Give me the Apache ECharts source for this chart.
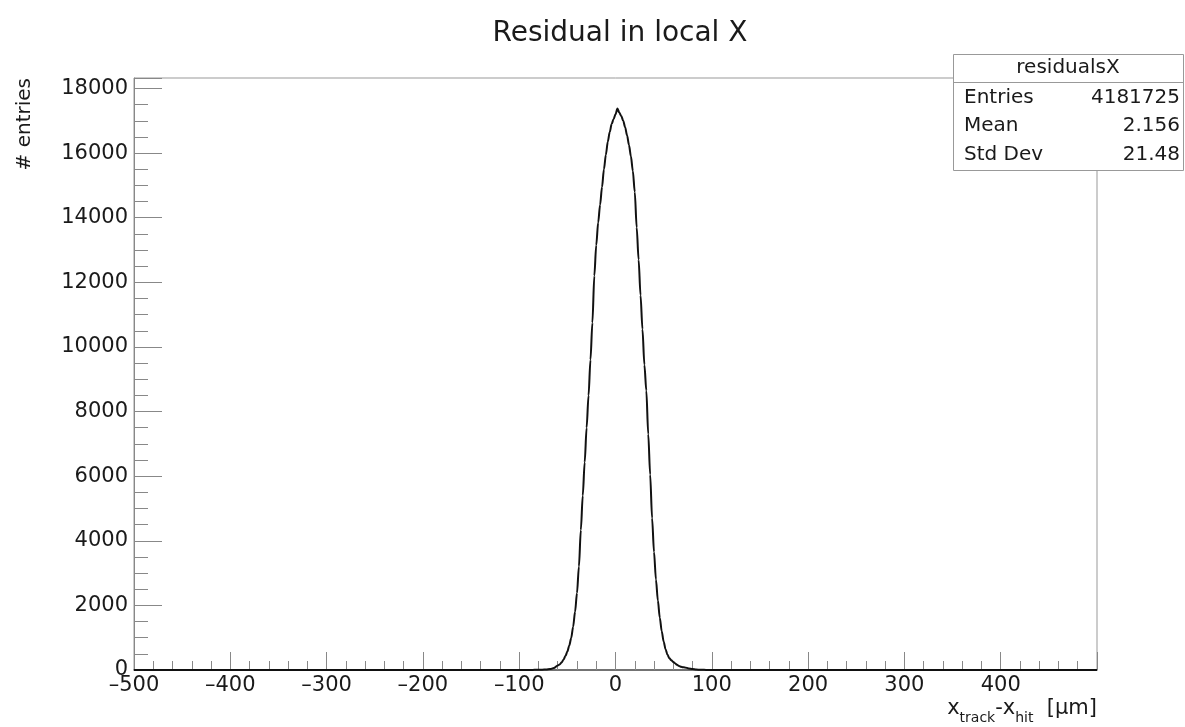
<!DOCTYPE html>
<html><head><meta charset="utf-8">
<script src="https://cdn.jsdelivr.net/npm/echarts@6/dist/echarts.min.js"></script>
<style>html,body{margin:0;padding:0;background:#fff}#c{width:1185px;height:727px}</style>
</head><body><div id="c"></div>
<script>
const chartTitle = 'Residual in local X';
const yAxisTitle = '# entries';
// residual x_track - x_hit (µm)
const residualUm = [-500, -100, -96, -92, -88, -84, -80, -76, -72, -68, -64, -60, -58, -56, -54, -52, -50, -48, -46, -44, -42, -40, -38, -36, -34, -32, -30, -28, -26, -24, -22, -20, -18, -16, -14, -12, -10, -8, -6, -4, -2, 0, 2, 4, 6, 8, 10, 12, 14, 16, 18, 20, 22, 24, 26, 28, 30, 32, 34, 36, 38, 40, 42, 44, 46, 48, 50, 52, 54, 56, 58, 60, 62, 64, 66, 68, 70, 72, 76, 80, 84, 88, 92, 96, 100, 104, 500];
// # entries per bin
const entries = [0, 0, 1, 2, 3, 4, 6, 9, 16, 28, 60, 140, 170, 230, 320, 430, 570, 760, 990, 1340, 1800, 2380, 3200, 4330, 5400, 6430, 7500, 8500, 9600, 10750, 12200, 13150, 13850, 14400, 14950, 15500, 15950, 16350, 16650, 16900, 17050, 17200, 17380, 17250, 17150, 17000, 16800, 16550, 16250, 15900, 15450, 14800, 13700, 12700, 11600, 10550, 9450, 8650, 7300, 6050, 4700, 3650, 2800, 2150, 1620, 1200, 880, 640, 470, 360, 300, 250, 200, 160, 125, 100, 85, 80, 50, 28, 15, 8, 4, 2, 1, 0, 0];
const statsTitle = 'residualsX';
const statsNames = ['Entries', 'Mean', 'Std Dev'];
const statsValues = ['4181725', '2.156', '21.48'];
const xMin = -500, xMax = 500, xStep = 100;
const yMin = 0, yMax = 18325, yStep = 2000, yMinorStep = 500;

const FONT = '"DejaVu Sans", sans-serif';
const TXT = '#1a1a1a';
const chart = echarts.init(document.getElementById('c'), null, {renderer: 'canvas'});

const seriesData = residualUm.map((x, i) => [x, entries[i]]);

const statsGraphics = [
  {type: 'rect', shape: {x: 953.5, y: 54.5, width: 230, height: 116}, style: {fill: '#fff', stroke: '#999', lineWidth: 1}, z: 100},
  {type: 'line', shape: {x1: 953.5, y1: 82.5, x2: 1183.5, y2: 82.5}, style: {stroke: '#999', lineWidth: 1}, z: 101},
  {type: 'text', x: 1068, y: 68, style: {text: statsTitle, fontSize: 20, fontFamily: FONT, fill: TXT, align: 'center', verticalAlign: 'middle'}, z: 101}
];
statsNames.forEach((n, i) => {
  const yy = 98 + i * 28.2;
  statsGraphics.push({type: 'text', x: 964, y: yy, style: {text: n, fontSize: 20, fontFamily: FONT, fill: TXT, align: 'left', verticalAlign: 'middle'}, z: 101});
  statsGraphics.push({type: 'text', x: 1180, y: yy, style: {text: statsValues[i], fontSize: 20, fontFamily: FONT, fill: TXT, align: 'right', verticalAlign: 'middle'}, z: 101});
});

const option = {
  backgroundColor: '#fff',
  animation: false,
  title: {
    text: chartTitle, left: 615, top: 15, textAlign: 'center',
    textStyle: {fontFamily: FONT, fontSize: 28, fontWeight: 'normal', color: TXT}
  },
  grid: {left: 134, right: 88, top: 78, bottom: 57, show: true, borderColor: '#999', borderWidth: 1, backgroundColor: '#fff'},
  xAxis: {
    type: 'value', min: xMin, max: xMax, interval: xStep,
    axisLine: {onZero: false, lineStyle: {color: '#555', width: 1.5}},
    axisTick: {inside: true, length: 18, lineStyle: {color: '#888'}},
    minorTick: {show: true, splitNumber: 5, length: 9, lineStyle: {color: '#888'}},
    splitLine: {show: false},
    axisLabel: {
      margin: 5, fontSize: 21, fontFamily: FONT, color: TXT,
      formatter: v => v === xMax ? '' : String(v).replace('-', '\u2013')
    }
  },
  yAxis: [
    {
      type: 'value', min: yMin, max: yMax, interval: yStep, position: 'left',
      axisLine: {show: true, onZero: false, lineStyle: {color: '#888', width: 1}},
      axisTick: {inside: true, length: 28, lineStyle: {color: '#888'}},
      splitLine: {show: false},
      axisLabel: {
        margin: 6, fontSize: 21, fontFamily: FONT, color: TXT,
        formatter: v => (v % yStep === 0 ? String(v) : '')
      }
    },
    {
      type: 'value', min: yMin, max: yMax, interval: yMinorStep, position: 'left', offset: 0,
      axisLine: {show: false, onZero: false},
      axisTick: {inside: true, length: 14, lineStyle: {color: '#888'}},
      splitLine: {show: false},
      axisLabel: {show: false}
    }
  ],
  series: [{
    type: 'line', data: seriesData, yAxisIndex: 0,
    showSymbol: false, symbol: 'none',
    smooth: 0.3, smoothMonotone: 'x',
    lineStyle: {color: '#111', width: 2},
    z: 5
  }],
  graphic: [
    {type: 'text', x: 25, y: 78, rotation: Math.PI / 2,
     style: {text: yAxisTitle, fontSize: 20, fontFamily: FONT, fill: TXT, align: 'right', verticalAlign: 'middle'}},
    {type: 'text', right: 88, top: 698,
     style: {
       text: '{m|x}{s|track}{m|-x}{s|hit}{m|  [\u00b5m]}',
       fill: TXT,
       rich: {
         m: {fontSize: 21, fontFamily: FONT, fill: TXT, verticalAlign: 'bottom'},
         s: {fontSize: 14, fontFamily: FONT, fill: TXT, verticalAlign: 'bottom', padding: [0, 0, -6, 0]}
       }
     }}
  ].concat(statsGraphics)
};
chart.setOption(option);
</script>
</body></html>
